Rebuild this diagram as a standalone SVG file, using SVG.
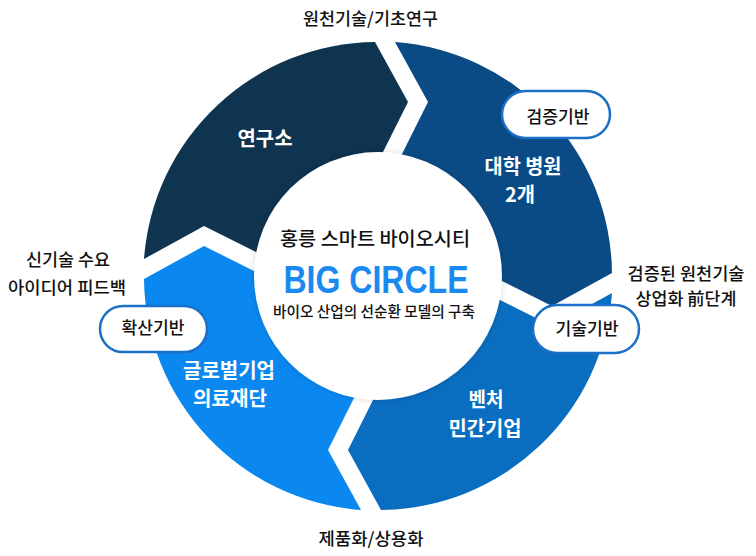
<svg xmlns="http://www.w3.org/2000/svg" width="756" height="556" viewBox="0 0 756 556">
  <defs>
    <path id="seg" d="M 144,259 A 234 234 0 0 1 375,42 L 408,102 L 374,170 L 378,276 L 272,260 L 204,226 Z"/>
    <filter id="glow" x="-20%" y="-20%" width="140%" height="140%">
      <feGaussianBlur in="SourceAlpha" stdDeviation="3"/>
      <feComponentTransfer><feFuncA type="linear" slope="0.18"/></feComponentTransfer>
      <feMerge><feMergeNode/><feMergeNode in="SourceGraphic"/></feMerge>
    </filter>
    <style>
      .k { font-family: "Noto Sans CJK KR", "Noto Sans", sans-serif; text-anchor: middle; }
      .out { font-size: 17px; font-weight: 500; fill: #111; }
      .seglbl { font-size: 20px; font-weight: 700; fill: #fff; }
      .pill rect { fill: #fff; stroke: #1b6fc6; stroke-width: 2.5; }
      .pill text { font-size: 17px; font-weight: 500; fill: #111; }
    </style>
  </defs>
  <rect width="756" height="556" fill="#fff"/>

  <g id="ring">
    <g id="node-research"><use href="#seg" fill="#0f3450"/></g>
    <g id="node-hospital"><use href="#seg" fill="#0a4b85" transform="rotate(90 378 276)"/></g>
    <g id="node-venture"><use href="#seg" fill="#0a6ec0" transform="rotate(180 378 276)"/></g>
    <g id="node-global"><use href="#seg" fill="#0a88f0" transform="rotate(270 378 276)"/></g>
  </g>

  <g id="connectors"></g>

  <g id="center">
    <circle cx="378" cy="276" r="124" fill="#fff" filter="url(#glow)"/>
    <text class="k" x="375" y="245.5" font-size="19" font-weight="500" fill="#111" textLength="190" lengthAdjust="spacingAndGlyphs">홍릉 스마트 바이오시티</text>
    <text x="376" y="293" font-family="'Liberation Sans', Arial, sans-serif" font-weight="700" font-size="39" fill="#1a8af0" text-anchor="middle" textLength="185" lengthAdjust="spacingAndGlyphs">BIG CIRCLE</text>
    <text class="k" x="374" y="317" font-size="15" font-weight="500" fill="#111" textLength="202" lengthAdjust="spacingAndGlyphs">바이오 산업의 선순환 모델의 구축</text>
  </g>

  <g id="labels-segments">
    <text class="k seglbl" x="265" y="146" textLength="55" lengthAdjust="spacingAndGlyphs">연구소</text>
    <text class="k seglbl" x="523" y="173.5" textLength="77" lengthAdjust="spacingAndGlyphs">대학 병원</text>
    <text class="k seglbl" x="520" y="201.5" textLength="30" lengthAdjust="spacingAndGlyphs">2개</text>
    <text class="k seglbl" x="486" y="407" textLength="35" lengthAdjust="spacingAndGlyphs">벤처</text>
    <text class="k seglbl" x="485" y="436" textLength="73" lengthAdjust="spacingAndGlyphs">민간기업</text>
    <text class="k seglbl" x="229" y="378" textLength="92" lengthAdjust="spacingAndGlyphs">글로벌기업</text>
    <text class="k seglbl" x="230" y="406" textLength="74" lengthAdjust="spacingAndGlyphs">의료재단</text>
  </g>

  <g id="labels-outer">
    <text class="k out" x="370.5" y="24.5" font-size="18" textLength="135" lengthAdjust="spacingAndGlyphs">원천기술/기초연구</text>
    <text class="k out" x="68" y="266" textLength="84" lengthAdjust="spacingAndGlyphs">신기술 수요</text>
    <text class="k out" x="67" y="293.5" textLength="118" lengthAdjust="spacingAndGlyphs">아이디어 피드백</text>
    <text class="k out" x="686" y="280" textLength="117" lengthAdjust="spacingAndGlyphs">검증된 원천기술</text>
    <text class="k out" x="686" y="305" textLength="101" lengthAdjust="spacingAndGlyphs">상업화 前단계</text>
    <text class="k out" x="371" y="545" textLength="105" lengthAdjust="spacingAndGlyphs">제품화/상용화</text>
  </g>

  <g id="pill-verify" class="pill">
    <rect x="502" y="91" width="108" height="47" rx="23.5"/>
    <text class="k" x="558" y="123" textLength="63" lengthAdjust="spacingAndGlyphs">검증기반</text>
  </g>
  <g id="pill-spread" class="pill">
    <rect x="100" y="306" width="107" height="46" rx="23"/>
    <text class="k" x="153" y="334" textLength="63" lengthAdjust="spacingAndGlyphs">확산기반</text>
  </g>
  <g id="pill-tech" class="pill">
    <rect x="533" y="305" width="106" height="48" rx="24"/>
    <text class="k" x="587" y="335" textLength="63" lengthAdjust="spacingAndGlyphs">기술기반</text>
  </g>
</svg>
